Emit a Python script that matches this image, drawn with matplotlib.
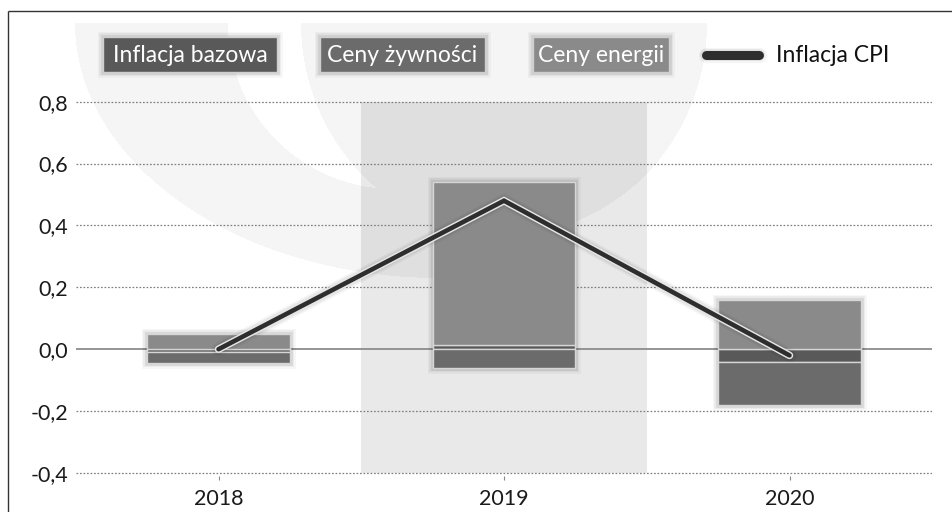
import numpy as np
import matplotlib
matplotlib.use('Agg')
import matplotlib.pyplot as plt
from matplotlib import patheffects as pe
from matplotlib.patches import Rectangle

# ---------------- data ----------------
years = ['2018', '2019', '2020']
core = [-0.01, 0.013, -0.04]        # Inflacja bazowa
food = [-0.035, -0.061, -0.14]      # Ceny żywności
energy = [0.048, 0.526, 0.16]       # Ceny energii
cpi = [0.0, 0.48, -0.02]            # Inflacja CPI
yticks = [-0.4, -0.2, 0.0, 0.2, 0.4, 0.6, 0.8]
ytick_labels = ['-0,4', '-0,2', '0,0', '0,2', '0,4', '0,6', '0,8']
legend_labels = ['Inflacja bazowa', 'Ceny żywności', 'Ceny energii', 'Inflacja CPI']

C_CORE = '#595959'
C_FOOD = '#6b6b6b'
C_ENERGY = '#8a8a8a'
C_CPI = '#2e2e2e'

plt.rcParams['font.family'] = ['Lato', 'DejaVu Sans']

W, H = 952, 512
fig = plt.figure(figsize=(W / 100, H / 100), dpi=100, facecolor='white')

# ---------------- background (pixel coords) ----------------
bg = fig.add_axes([0, 0, 1, 1], zorder=0)
bg.set_xlim(0, W); bg.set_ylim(H, 0); bg.axis('off')
yy, xx = np.mgrid[0:H, 0:W] + 0.5
A = (((xx - 440) / 365) ** 2 + ((yy - 23) / 255) ** 2 <= 1) & (xx < 560)
inner = (xx - 394) ** 2 + (yy - 23) ** 2 <= 166 ** 2
B = ((xx - 504) / 203) ** 2 + ((yy - 23) / 212) ** 2 <= 1
mask = ((A & ~inner) | B) & (yy >= 23)
img = np.zeros((H, W, 4)); img[..., 3] = mask * 0.04
bg.imshow(img, extent=(0, W, H, 0), interpolation='nearest', aspect='auto')
bg.plot([8, 8], [10.5, H], color='#333333', lw=1.0, solid_capstyle='butt')
bg.plot([8, W], [10.5, 10.5], color='#333333', lw=1.0, solid_capstyle='butt')

# ---------------- main axes ----------------
ppu = 309.4
y_lo, y_hi = -0.41, 0.81
top_px = 101.7 - (y_hi - 0.8) * ppu
bot_px = 473.0 + (-0.4 - y_lo) * ppu
ax = fig.add_axes([75.75 / W, (H - bot_px) / H, 856.5 / W, (bot_px - top_px) / H], zorder=1)
ax.patch.set_alpha(0)
ax.set_xlim(-0.5, 2.5)
ax.set_ylim(y_lo, y_hi)
for s in ax.spines.values():
    s.set_visible(False)

x = np.arange(len(years))
# highlighted 2019 band
ax.add_patch(Rectangle((0.5, -0.4), 1.0, 1.2, facecolor='black', alpha=0.085, lw=0, zorder=0.5))

for v in yticks:
    if v == 0:
        ax.axhline(v, color='#8c8c8c', lw=1.3, zorder=1)
    else:
        ax.axhline(v, color='#808080', lw=0.9, linestyle=(0, (1.4, 1.4)), zorder=1)

ax.set_yticks(yticks, ytick_labels)
ax.set_xticks(x, years)
ax.tick_params(axis='y', length=0, pad=5.5, labelsize=15.5, labelcolor='#1a1a1a')
ax.tick_params(axis='x', length=3, width=0.8, color='#888888', pad=6, labelsize=15.5, labelcolor='#1a1a1a')

shadow = [pe.Stroke(linewidth=8, foreground='black', alpha=0.03),
          pe.Stroke(linewidth=5.5, foreground='black', alpha=0.05),
          pe.Stroke(linewidth=3.5, foreground='black', alpha=0.07),
          pe.Normal()]

series = [(core, C_CORE), (food, C_FOOD), (energy, C_ENERGY)]
pos_tot = np.sum([np.clip(s, 0, None) for s, _ in series], axis=0)
neg_tot = np.sum([np.clip(s, None, 0) for s, _ in series], axis=0)
full = ax.bar(x, pos_tot - neg_tot, 0.5, bottom=neg_tot, color='#777777', lw=0, zorder=2.5)
for b in full:
    b.set_path_effects(shadow)

pos_base = np.zeros(3); neg_base = np.zeros(3)
for vals, col in series:
    v = np.array(vals)
    base = np.where(v >= 0, pos_base, neg_base)
    ax.bar(x, v, 0.5, bottom=base, color=col, edgecolor='#d6d6d6', linewidth=1.0, zorder=3)
    pos_base += np.clip(v, 0, None)
    neg_base += np.clip(v, None, 0)

ax.plot(x, cpi, color=C_CPI, lw=3.3, solid_capstyle='round', solid_joinstyle='miter', zorder=5,
        path_effects=[pe.Stroke(linewidth=10, foreground='black', alpha=0.04),
                      pe.Stroke(linewidth=7.5, foreground='black', alpha=0.06),
                      pe.Stroke(linewidth=5.4, foreground='#e6e6e6'),
                      pe.Normal()])

# ---------------- legend (pixel coords) ----------------
ov = fig.add_axes([0, 0, 1, 1], zorder=10)
ov.set_xlim(0, W); ov.set_ylim(H, 0); ov.axis('off'); ov.patch.set_alpha(0)
boxes = [(103, 277), (320, 485), (533, 669)]
cols = [C_CORE, C_FOOD, C_ENERGY]
for (x0, x1), col, lab in zip(boxes, cols, legend_labels[:3]):
    r = Rectangle((x0, 37), x1 - x0, 35, facecolor=col, edgecolor='#cfcfcf', lw=1.0)
    r.set_path_effects(shadow)
    ov.add_patch(r)
    ov.text((x0 + x1) / 2, 55, lab, color='white', fontsize=16.5, ha='center', va='center')
ov.plot([706, 759], [55, 55], color=C_CPI, lw=6.5, solid_capstyle='round',
        path_effects=[pe.Stroke(linewidth=11, foreground='black', alpha=0.04),
                      pe.Stroke(linewidth=8.5, foreground='black', alpha=0.07),
                      pe.Normal()])
ov.text(776, 55, legend_labels[3], color='#111111', fontsize=16.5, ha='left', va='center')

fig.savefig('out.png', dpi=100, facecolor='white')
